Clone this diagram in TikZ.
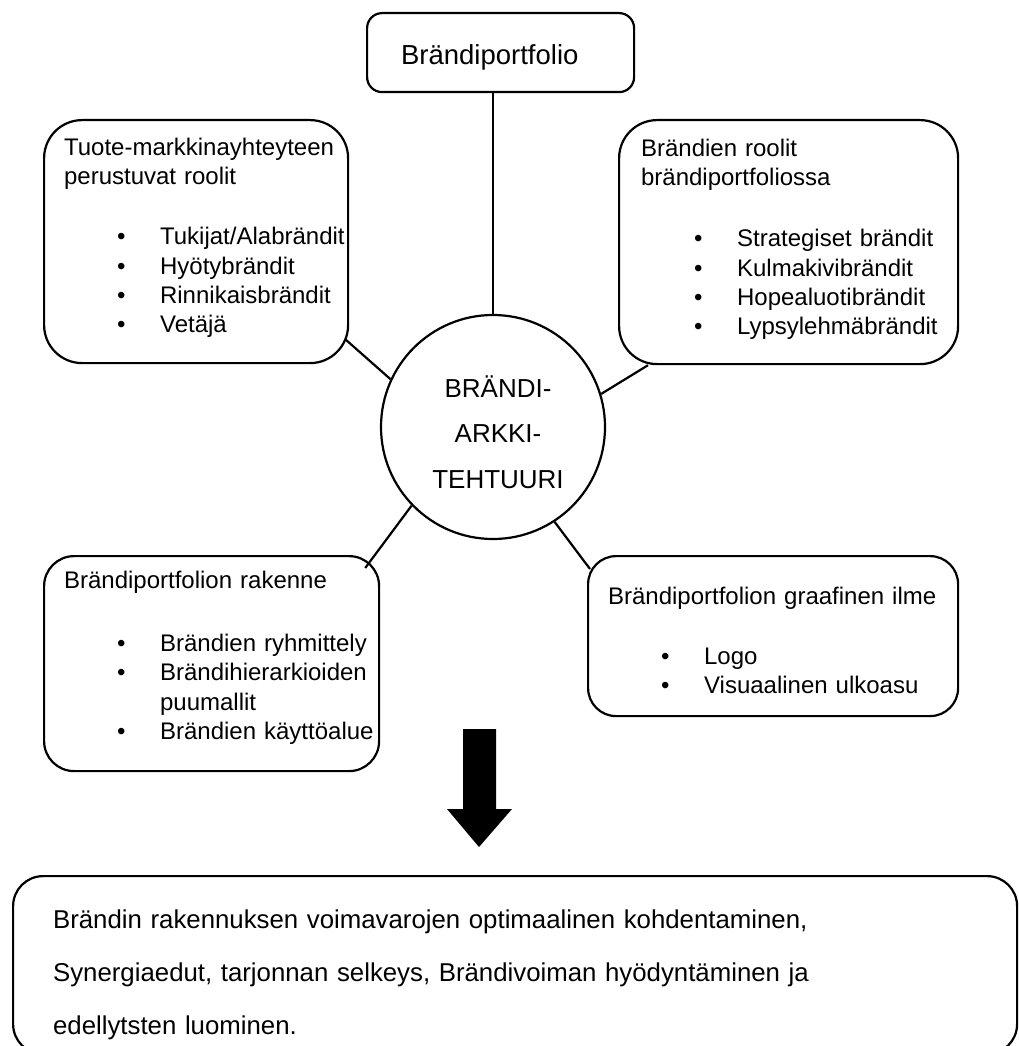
\documentclass[tikz,border=0pt]{standalone}
\usepackage{fontspec}
\setmainfont{Liberation Sans}

% luettelon kohta
\newcommand{\kohta}[1]{\hspace*{53pt}\makebox[43pt][l]{\textbullet}\mbox{#1}}

\begin{document}
\begin{tikzpicture}[x=1pt, y=-1pt, line width=2.2pt,
    laatikko/.style={draw, rectangle, anchor=north west, align=left, inner ysep=0pt,
        font=\fontsize{24}{29.3}\selectfont}]

    \useasboundingbox (0,0) rectangle (1018,1046);

    % Solmu ylälaatikolle
    \node (portfolio) [laatikko, rounded corners=15pt, inner xsep=34pt, text width=199pt,
        text height=51pt, text depth=28pt, font=\fontsize{27.5}{33}\selectfont] at (366,12)
    {Brändiportfolio};

    % Keskellä oleva ympyrä
    \node (arkkitehtuuri) [draw, circle, minimum size=224pt, inner sep=0pt, text width=150pt,
        align=center, text height=40pt, text depth=100pt, font=\fontsize{26}{45.5}\selectfont] at (493,427)
    {\hspace*{10pt}BRÄNDI-\\\hspace*{10pt}ARKKI-\\\hspace*{10pt}TEHTUURI};

    % Vasen ylälaatikko
    \node (tuote) [laatikko, rounded corners=38pt, inner xsep=20pt, text width=264pt,
        text height=35pt, text depth=208pt] at (43,119)
    {\mbox{Tuote-markkinayhteyteen}\\perustuvat roolit\\[31pt]
    \kohta{Tukijat/Alabrändit}\\\kohta{Hyötybrändit}\\\kohta{Rinnikaisbrändit}\\\kohta{Vetäjä}};

    % Oikea ylälaatikko
    \node (roolit) [laatikko, rounded corners=38pt, inner xsep=22pt, text width=295pt,
        text height=36pt, text depth=208pt] at (618,119)
    {Brändien roolit\\brändiportfoliossa\\[32pt]
    \kohta{Strategiset brändit}\\\kohta{Kulmakivibrändit}\\\kohta{Hopealuotibrändit}\\\kohta{Lypsylehmäbrändit}};

    % Vasen alalaatikko
    \node (rakenne) [laatikko, rounded corners=30pt, inner xsep=20pt, text width=295pt,
        text height=32pt, text depth=183pt] at (43,555)
    {Brändiportfolion rakenne\\[34pt]
    \kohta{Brändien ryhmittely}\\\kohta{Brändihierarkioiden}\\\hspace*{96pt}puumallit\\\kohta{Brändien käyttöalue}};

    % Oikea alalaatikko
    \node (ilme) [laatikko, rounded corners=28pt, inner xsep=20pt, text width=330pt,
        text height=48pt, text depth=112pt] at (587,555)
    {Brändiportfolion graafinen ilme\\[31pt]
    \kohta{Logo}\\\kohta{Visuaalinen ulkoasu}};

    % Yhdistetään laatikot ympyrään
    \draw (arkkitehtuuri.north |- portfolio.south) -- (arkkitehtuuri.north);
    \draw ([shift={(-4,-25)}]tuote.south east) -- (arkkitehtuuri.155);
    \draw ([xshift=30pt]roolit.south west) -- (arkkitehtuuri.17);
    \draw ([shift={(-15,13)}]rakenne.north east) -- (arkkitehtuuri.224);
    \draw ([shift={(3,14)}]ilme.north west) -- (arkkitehtuuri.303);

    % Paksu nuoli alaspäin
    \fill (463,729) -- (496,729) -- (496,809) -- (512,809) -- (479,847) -- (447,809) -- (463,809) -- cycle;

    % Lopputulos
    \node (tulos) [laatikko, rounded corners=30pt, inner xsep=40pt, text width=924pt,
        text height=52pt, text depth=126pt, font=\fontsize{25.8}{53}\selectfont] at (12,875)
    {Brändin rakennuksen voimavarojen optimaalinen kohdentaminen,\\
    Synergiaedut, tarjonnan selkeys, Brändivoiman hyödyntäminen ja\\
    edellytsten luominen.};

\end{tikzpicture}
\end{document}
